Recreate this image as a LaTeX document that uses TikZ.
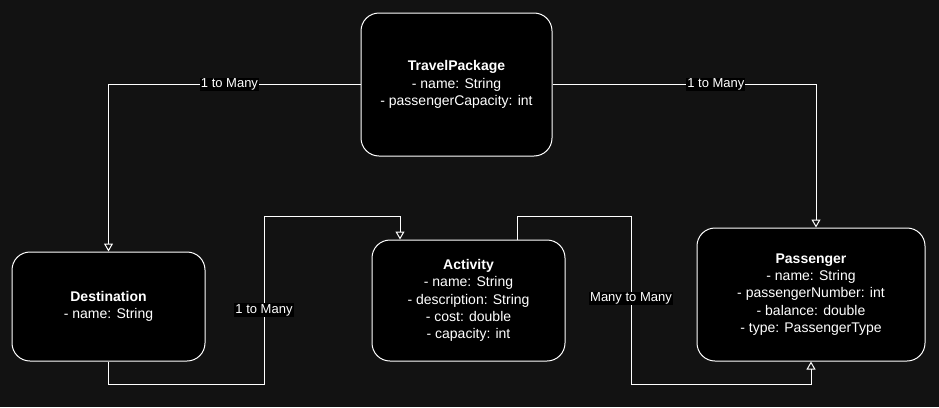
\documentclass[tikz,border=0pt]{standalone}
\usepackage{fontspec}
\setmainfont{Liberation Sans}
\usetikzlibrary{arrows.meta,calc}
\definecolor{bgc}{RGB}{18,18,18}
\begin{document}
\begin{tikzpicture}[x=1pt,y=-1pt,
  cls/.style={draw=white, line width=1pt, fill=black, rounded corners=18pt, text=white,
    align=center, inner sep=0pt, font=\fontsize{14}{17.3}\selectfont},
  conn/.style={draw=white, line width=1pt},
  arr/.style={conn, -{Triangle[open, length=8pt, width=9pt]}},
  lbl/.style={fill=black, text=white, inner sep=1pt, font=\fontsize{13}{15}\selectfont}]
\useasboundingbox (0,0) rectangle (939,407);
\fill[bgc] (0,0) rectangle (939,407);

\node[cls, minimum width=191pt, minimum height=143pt] (tp) at (456.5,84.5)
  {\textbf{TravelPackage}\\- name: String\\- passengerCapacity: int};
\node[cls, minimum width=193pt, minimum height=109pt] (dest) at (108.5,306.5)
  {\textbf{Destination}\\- name: String};
\node[cls, minimum width=193pt, minimum height=121pt] (act) at (468.5,300.5)
  {\textbf{Activity}\\- name: String\\- description: String\\- cost: double\\- capacity: int};
\node[cls, minimum width=228pt, minimum height=133pt] (pass) at (811,294.5)
  {\textbf{Passenger}\\- name: String\\- passengerNumber: int\\- balance: double\\- type: PassengerType};

\coordinate (pt) at ($(pass.north)+(5,0)$);
\coordinate (j1) at (264,384);
\coordinate (j2) at (264,216);
\coordinate (j3) at (400,216);
\coordinate (k0) at (517,240);
\coordinate (k1) at (517,216);
\coordinate (k2) at (631,216);
\coordinate (k3) at (631,384);
\coordinate (k4) at (811,384);

\draw[arr] (tp.west) -| node[lbl, pos=0.26] {1 to Many} (dest.north);
\draw[arr] (tp.east) -| node[lbl, pos=0.31] {1 to Many} (pt);
\draw[arr] (dest.south) |- (j1) -- node[lbl, pos=0.44] {1 to Many} (j2) -- (j3) -- (j3 |- act.north);
\draw[arr] (k0) -- (k1) -- (k2) -- node[lbl, pos=0.49] {Many to Many} (k3) -- (k4) -- (pass.south);
\end{tikzpicture}
\end{document}
